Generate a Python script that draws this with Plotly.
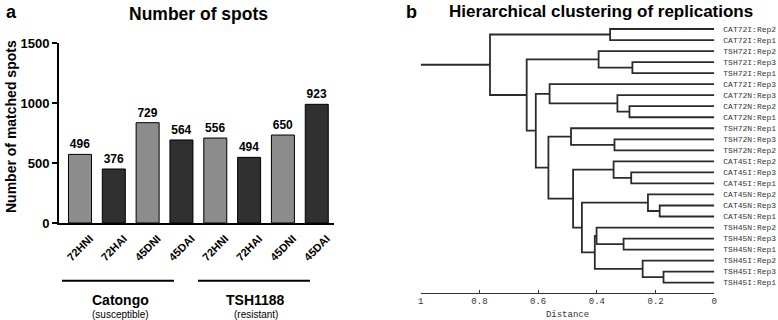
import plotly.graph_objects as go

# ---------------- data: panel a ----------------
categories = ["72HNI", "72HAI", "45DNI", "45DAI", "72HNI", "72HAI", "45DNI", "45DAI"]
bar_heights = [572, 450, 836, 692, 708, 547, 733, 989]
bar_labels = ["496", "376", "729", "564", "556", "494", "650", "923"]
bar_shades = ["light", "dark", "light", "dark", "light", "dark", "light", "dark"]
y_ticks = [0, 500, 1000, 1500]
groups = ["Catongo", "TSH1188"]
group_notes = ["(susceptible)", "(resistant)"]

# ---------------- data: panel b ----------------
leaves = ["CAT72I:Rep2", "CAT72I:Rep1", "TSH72I:Rep2", "TSH72I:Rep3", "TSH72I:Rep1",
          "CAT72I:Rep3", "CAT72N:Rep3", "CAT72N:Rep2", "CAT72N:Rep1", "TSH72N:Rep1",
          "TSH72N:Rep3", "TSH72N:Rep2", "CAT45I:Rep2", "CAT45I:Rep3", "CAT45I:Rep1",
          "CAT45N:Rep2", "CAT45N:Rep3", "CAT45N:Rep1", "TSH45N:Rep2", "TSH45N:Rep3",
          "TSH45N:Rep1", "TSH45I:Rep2", "TSH45I:Rep3", "TSH45I:Rep1"]
# scipy-style linkage: ids < 24 are leaves, id 24+k is merge k
merge_left = [22, 16, 21, 15, 3, 13, 7, 19, 6, 12, 10, 0, 2, 18, 37, 27, 33, 9, 5, 41, 42, 36, 35]
merge_right = [23, 17, 24, 25, 4, 14, 8, 20, 30, 29, 11, 1, 28, 31, 26, 38, 39, 34, 32, 40, 43, 44, 45]
merge_height = [0.173, 0.186, 0.244, 0.226, 0.279, 0.283, 0.289, 0.309, 0.330, 0.343, 0.340,
                0.355, 0.394, 0.401, 0.407, 0.451, 0.481, 0.488, 0.561, 0.565, 0.608, 0.639, 0.764]
root_stub = 1.0
dist_ticks = [1, 0.8, 0.6, 0.4, 0.2, 0]

# ---------------- figure ----------------
W, H = 778, 320
def px_x(p): return p / W
def px_y(p): return (H - p) / H

LIGHT, DARK = "#8c8c8c", "#303030"
fig = go.Figure()

fig.add_trace(go.Bar(
    x=list(range(len(categories))), y=bar_heights,
    text=bar_labels, textposition="outside", cliponaxis=False,
    textfont=dict(family="Liberation Sans", size=12, color="black", weight="bold"),
    marker=dict(color=[LIGHT if s == "light" else DARK for s in bar_shades],
                line=dict(color="black", width=1)),
    width=0.68, xaxis="x", yaxis="y", showlegend=False, hoverinfo="skip"))

# dendrogram coordinates
n = len(leaves)
pos_y = {i: float(i) for i in range(n)}
pos_h = {i: 0.0 for i in range(n)}
xs, ys = [], []
for k, (a, b, h) in enumerate(zip(merge_left, merge_right, merge_height)):
    nid = n + k
    xs += [pos_h[a], h, h, pos_h[b], None]
    ys += [pos_y[a], pos_y[a], pos_y[b], pos_y[b], None]
    pos_y[nid] = (pos_y[a] + pos_y[b]) / 2
    pos_h[nid] = h
root = n + len(merge_height) - 1
xs += [pos_h[root], root_stub, None]
ys += [pos_y[root], pos_y[root], None]

fig.add_trace(go.Scatter(x=xs, y=ys, mode="lines", line=dict(color="#2b2b2b", width=1.8),
                         xaxis="x2", yaxis="y2", showlegend=False, hoverinfo="skip"))

bold_font = dict(family="Liberation Sans", color="black", weight="bold")
mono = "Liberation Mono"

fig.update_layout(
    width=W, height=H, margin=dict(l=0, r=0, t=0, b=0),
    paper_bgcolor="white", plot_bgcolor="white",
    xaxis=dict(domain=[px_x(59), px_x(334)], range=[-0.62, 7.51],
               tickvals=list(range(len(categories))), ticktext=categories,
               tickangle=-45, tickfont=dict(size=11, **bold_font),
               ticklabelshift=10, ticklabelstandoff=3,
               showline=True, linewidth=2, linecolor="black", ticks="",
               showgrid=False, zeroline=False, anchor="y", automargin=False),
    yaxis=dict(domain=[px_y(223), px_y(43)], range=[0, 1500], tickvals=y_ticks,
               ticks="outside", ticklen=5, tickwidth=2, tickcolor="black",
               tickfont=dict(size=13, **bold_font),
               showline=True, linewidth=2, linecolor="black",
               showgrid=False, zeroline=False, anchor="x", automargin=False),
    xaxis2=dict(domain=[px_x(420.7), px_x(714.3)], range=[1, 0], tickvals=dist_ticks,
                ticktext=[str(t) for t in dist_ticks],
                ticks="inside", ticklen=3, tickwidth=1, tickcolor="#333",
                tickfont=dict(family=mono, size=9, color="#333"),
                showline=True, linewidth=1, linecolor="#333",
                showgrid=False, zeroline=False, anchor="y2", automargin=False,
                title=dict(text="Distance", font=dict(family=mono, size=9, color="#333"),
                           standoff=4)),
    yaxis2=dict(domain=[px_y(292.5), px_y(20)], range=[23.89, -0.816],
                tickvals=list(range(n)), ticktext=leaves, side="right",
                tickfont=dict(family=mono, size=8, color="#333"),
                ticks="", ticklabelstandoff=8, showline=False, showgrid=False,
                zeroline=False, anchor="x2", automargin=False),
)

ann = []
ann.append(dict(text="a", x=px_x(4), y=px_y(12), xanchor="left", yanchor="middle",
                font=dict(size=18, **bold_font)))
ann.append(dict(text="b", x=px_x(404), y=px_y(12), xanchor="left", yanchor="middle",
                font=dict(size=18, **bold_font)))
ann.append(dict(text="Number of spots", x=px_x(198), y=px_y(14), xanchor="center",
                yanchor="middle", font=dict(size=17.5, **bold_font)))
ann.append(dict(text="Hierarchical clustering of replications", x=px_x(601), y=px_y(12),
                xanchor="center", yanchor="middle", font=dict(size=17, **bold_font)))
ann.append(dict(text="Number of matched spots", x=px_x(11), y=px_y(127), textangle=-90,
                xanchor="center", yanchor="middle", font=dict(size=14, **bold_font)))

group_spans = [(62, 174), (198, 310)]
for (x0, x1), g, note in zip(group_spans, groups, group_notes):
    fig.add_shape(type="line", xref="paper", yref="paper", x0=px_x(x0), x1=px_x(x1),
                  y0=px_y(280.7), y1=px_y(280.7), line=dict(color="black", width=2))
    cx = (x0 + x1) / 2 + 2
    ann.append(dict(text=g, x=px_x(cx), y=px_y(300), xanchor="center", yanchor="middle",
                    font=dict(size=14, **bold_font)))
    ann.append(dict(text=note, x=px_x(cx), y=px_y(314), xanchor="center", yanchor="middle",
                    font=dict(family="Liberation Sans", size=10, color="black")))

for a in ann:
    a.update(xref="paper", yref="paper", showarrow=False)
fig.update_layout(annotations=ann)

fig.write_html("out.html", config={"displayModeBar": False, "staticPlot": True},
               post_script="document.body.style.margin='0';document.body.style.overflow='hidden';")
